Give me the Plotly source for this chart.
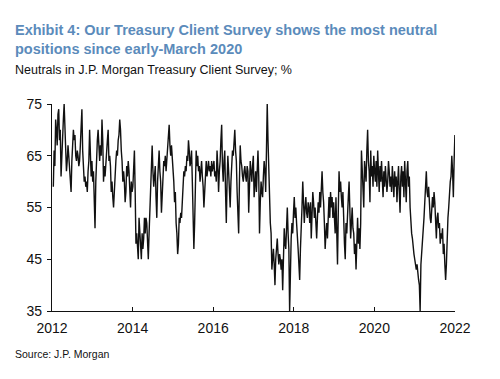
import pandas as pd
import plotly.graph_objects as go

# Weekly neutrals (%), one list per year
y2012 = [59, 66, 63, 72, 70, 67, 73, 74, 68, 70, 61, 66, 70, 72, 75, 69, 66, 62, 64, 67, 65, 62, 60, 58, 64, 67,
         70, 68, 69, 65, 64, 66, 65, 63, 64, 67, 70, 74, 66, 62, 60, 61, 59, 60, 58, 62, 64, 70, 63, 61, 64, 60]
y2013 = [62, 57, 51, 60, 65, 68, 70, 66, 64, 67, 65, 72, 68, 60, 63, 61, 64, 67, 68, 70, 64, 65, 63, 58, 60, 57,
         55, 58, 63, 64, 66, 65, 68, 69, 72, 70, 66, 64, 60, 62, 60, 56, 58, 63, 61, 64, 62, 58, 55, 60, 58, 59]
y2014 = [63, 66, 58, 48, 50, 47, 45, 53, 50, 48, 45, 50, 47, 49, 53, 50, 53, 52, 48, 45, 50, 55, 60, 64, 67, 62,
         59, 61, 63, 57, 53, 60, 63, 66, 62, 60, 54, 58, 62, 64, 63, 65, 62, 64, 66, 68, 71, 67, 65, 67, 65, 62]
y2015 = [60, 56, 58, 52, 50, 46, 48, 53, 52, 54, 53, 56, 60, 62, 61, 63, 62, 65, 64, 68, 66, 63, 64, 66, 60, 55,
         47, 52, 62, 66, 63, 65, 62, 63, 60, 62, 64, 61, 59, 55, 58, 62, 64, 61, 63, 64, 62, 63, 61, 64, 62, 63]
y2016 = [64, 61, 62, 60, 66, 63, 58, 62, 64, 68, 71, 63, 60, 64, 66, 58, 52, 60, 65, 62, 58, 55, 60, 64, 66, 65,
         68, 70, 66, 64, 58, 55, 50, 60, 67, 64, 63, 61, 60, 62, 63, 61, 60, 63, 62, 54, 59, 64, 62, 60, 63, 65]
y2017 = [57, 60, 62, 58, 64, 66, 61, 50, 56, 60, 58, 57, 61, 64, 62, 58, 66, 75, 68, 62, 58, 52, 50, 43, 45, 47,
         44, 40, 45, 47, 49, 46, 44, 46, 45, 43, 45, 39, 44, 51, 48, 47, 51, 55, 50, 47, 35, 46, 49, 52, 50, 54]
y2018 = [57, 53, 55, 52, 50, 47, 44, 41, 47, 50, 55, 60, 56, 52, 55, 57, 54, 53, 56, 55, 52, 56, 49, 54, 58, 56,
         53, 55, 52, 49, 53, 56, 54, 58, 55, 59, 62, 58, 56, 52, 47, 50, 52, 49, 54, 57, 53, 58, 55, 57, 53, 56]
y2019 = [53, 50, 57, 52, 44, 54, 62, 58, 60, 57, 55, 58, 51, 48, 45, 52, 50, 55, 57, 60, 53, 49, 52, 55, 51, 50,
         46, 48, 43, 50, 53, 48, 51, 47, 52, 66, 62, 58, 55, 64, 62, 60, 66, 70, 64, 62, 56, 66, 61, 63, 59, 65]
y2020 = [62, 60, 64, 59, 66, 61, 58, 63, 60, 64, 61, 57, 62, 59, 63, 61, 58, 60, 64, 62, 59, 61, 58, 63, 60, 57,
         62, 59, 61, 56, 60, 63, 58, 54, 61, 63, 59, 62, 57, 64, 60, 56, 62, 64, 59, 61, 55, 52, 50, 49, 47, 46]
y2021 = [45, 44, 43, 44, 42, 41, 40, 35, 44, 46, 48, 50, 53, 56, 60, 62, 58, 57, 59, 55, 53, 52, 55, 57, 55, 58,
         56, 52, 49, 53, 54, 51, 52, 48, 50, 49, 51, 46, 48, 44, 41, 44, 50, 53, 55, 58, 60, 61, 65, 62, 57, 64]
y2022 = [69]

values = y2012 + y2013 + y2014 + y2015 + y2016 + y2017 + y2018 + y2019 + y2020 + y2021 + y2022
dates = pd.date_range("2012-01-13", periods=len(values), freq="7D")

y_ticks = [35, 45, 55, 65, 75]
x_ticks = ["2012-01-01", "2014-01-01", "2016-01-01", "2018-01-01", "2020-01-01", "2022-01-01"]
x_labels = ["2012", "2014", "2016", "2018", "2020", "2022"]

title1 = "Exhibit 4: Our Treasury Client Survey shows the most neutral"
title2 = "positions since early-March 2020"
subtitle = "Neutrals in J.P. Morgan Treasury Client Survey; %"
source = "Source: J.P. Morgan"

fig = go.Figure()
fig.add_trace(go.Scatter(x=dates, y=values, mode="lines",
                         line=dict(color="#111111", width=1.4), showlegend=False,
                         hoverinfo="skip"))

L, T, PW, PH = 52, 104, 403, 207
def px(x):
    return (x - L) / PW
def py(y):
    return (T + PH - y) / PH

fig.update_layout(
    width=500, height=379,
    margin=dict(l=L, r=500 - L - PW, t=T, b=379 - T - PH),
    paper_bgcolor="white", plot_bgcolor="white",
    font=dict(family="Arial, Liberation Sans, sans-serif", color="#111111"),
    xaxis=dict(range=["2012-01-01", "2022-01-01"], tickvals=x_ticks, ticktext=x_labels,
               showgrid=False, zeroline=False, showline=True, linecolor="#111111", linewidth=1.3,
               ticks="inside", ticklen=4, tickcolor="#111111", tickwidth=1.3,
               ticklabelstandoff=4,
               tickfont=dict(size=14, color="#111111")),
    yaxis=dict(range=[35, 75], tickvals=y_ticks,
               showgrid=False, zeroline=False, showline=True, linecolor="#111111", linewidth=1.3,
               ticks="outside", ticklen=4, tickcolor="#111111", tickwidth=1.3,
               ticklabelstandoff=2,
               tickfont=dict(size=14, color="#111111")),
    annotations=[
        dict(text="<b>" + title1 + "</b>", x=px(13), y=py(30), xref="paper", yref="paper",
             xanchor="left", yanchor="middle", showarrow=False,
             font=dict(size=14.5, color="#5b8bbb", family="Arial, Liberation Sans, sans-serif")),
        dict(text="<b>" + title2 + "</b>", x=px(13), y=py(49), xref="paper", yref="paper",
             xanchor="left", yanchor="middle", showarrow=False,
             font=dict(size=14.5, color="#5b8bbb", family="Arial, Liberation Sans, sans-serif")),
        dict(text=subtitle, x=px(13), y=py(70), xref="paper", yref="paper",
             xanchor="left", yanchor="middle", showarrow=False,
             font=dict(size=12.5, color="#111111")),
        dict(text=source, x=px(13), y=py(354), xref="paper", yref="paper",
             xanchor="left", yanchor="middle", showarrow=False,
             font=dict(size=10.5, color="#111111")),
    ],
)

fig.write_html("out.html", config={"displayModeBar": False},
               post_script="document.body.style.margin='0';")
